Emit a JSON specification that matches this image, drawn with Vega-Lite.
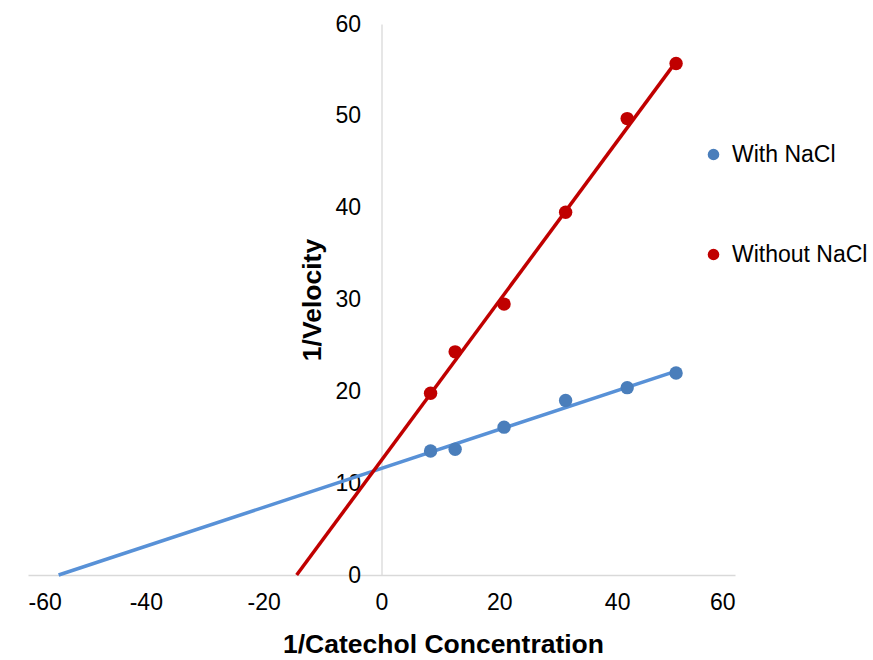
{
  "$schema": "https://vega.github.io/schema/vega-lite/v6.json",
  "autosize": "none",
  "width": 707,
  "height": 551,
  "padding": {"left": 28, "top": 24, "right": 138, "bottom": 85},
  "background": "white",
  "config": {
    "view": {"stroke": null},
    "font": "Liberation Sans",
    "axis": {"grid": false, "ticks": false, "domainColor": "#d9d9d9", "domainWidth": 1.3, "labelFont": "Liberation Sans", "labelColor": "#000000", "labelFontSize": 23, "titleFont": "Liberation Sans", "titleFontSize": 26.5, "titleFontWeight": "bold", "titleColor": "#000000"}
  },
  "datasets": {
    "points": [
      {"x": 8.33, "y": 13.5, "series": "With NaCl"},
      {"x": 12.5, "y": 13.7, "series": "With NaCl"},
      {"x": 20.8, "y": 16.1, "series": "With NaCl"},
      {"x": 31.25, "y": 19.0, "series": "With NaCl"},
      {"x": 41.7, "y": 20.4, "series": "With NaCl"},
      {"x": 50, "y": 22.0, "series": "With NaCl"},
      {"x": 8.33, "y": 19.8, "series": "Without NaCl"},
      {"x": 12.5, "y": 24.3, "series": "Without NaCl"},
      {"x": 20.8, "y": 29.5, "series": "Without NaCl"},
      {"x": 31.25, "y": 39.5, "series": "Without NaCl"},
      {"x": 41.7, "y": 49.7, "series": "Without NaCl"},
      {"x": 50, "y": 55.7, "series": "Without NaCl"}
    ],
    "trend": [
      {"x": -54.8, "y": 0, "series": "With NaCl"},
      {"x": 50, "y": 22.2, "series": "With NaCl"},
      {"x": -14.4, "y": 0, "series": "Without NaCl"},
      {"x": 50, "y": 55.9, "series": "Without NaCl"}
    ]
  },
  "layer": [
    {
      "data": {"name": "trend"},
      "mark": {"type": "line", "strokeWidth": 3.5, "clip": false},
      "encoding": {
        "x": {"field": "x", "type": "quantitative", "scale": {"domain": [-60, 60], "nice": false},
              "axis": {"values": [-60, -40, -20, 0, 20, 40, 60], "labelExpr": "datum.value + ''", "title": "1/Catechol Concentration", "labelPadding": 16, "titlePadding": 17, "titleX": 415}},
        "y": {"field": "y", "type": "quantitative", "scale": {"domain": [0, 60], "nice": false},
              "axis": {"values": [0, 10, 20, 30, 40, 50, 60], "title": "1/Velocity", "offset": -353.5, "labelPadding": 21, "titlePadding": 8}},
        "color": {"field": "series", "type": "nominal", "scale": {"domain": ["With NaCl", "Without NaCl"], "range": ["#5891D7", "#C00000"]}, "legend": null},
        "detail": {"field": "series"}
      }
    },
    {
      "data": {"name": "points"},
      "mark": {"type": "point", "filled": true, "opacity": 1, "size": 180},
      "encoding": {
        "x": {"field": "x", "type": "quantitative"},
        "y": {"field": "y", "type": "quantitative"},
        "color": {"field": "series", "type": "nominal", "scale": {"domain": ["With NaCl", "Without NaCl"], "range": ["#4A7EBB", "#C00000"]},
          "legend": {"title": null, "orient": "none", "legendX": 674, "legendY": 119, "symbolType": "circle", "symbolSize": 135, "symbolStrokeWidth": 0, "labelFontSize": 23, "labelFont": "Liberation Sans", "labelColor": "#000000", "labelOffset": 7, "rowPadding": 76}}
      }
    }
  ],
  "resolve": {"scale": {"color": "independent"}}
}
